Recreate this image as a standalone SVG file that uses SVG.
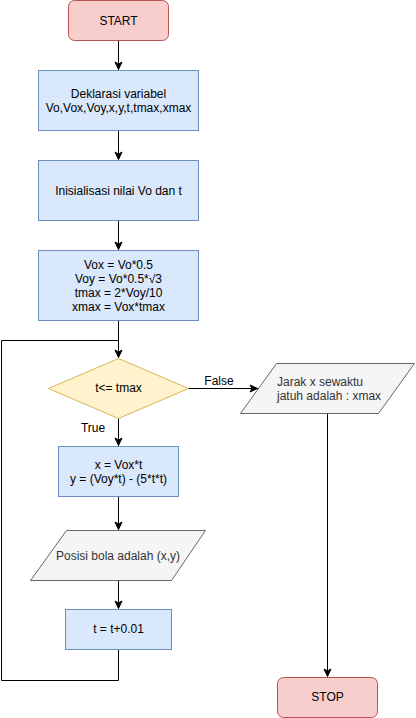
<svg xmlns="http://www.w3.org/2000/svg" width="416" height="718" viewBox="0 0 416 718">
<style>
text{font-family:"Liberation Sans",Arial,sans-serif;font-size:12px;text-anchor:middle;fill:#000}
.red{fill:#f8cecc;stroke:#b85450}
.blue{fill:#dae8fc;stroke:#6c8ebf}
.yel{fill:#fff2cc;stroke:#d6b656}
.gray{fill:#f5f5f5;stroke:#666666}
.gt{fill:#333333}
.edge{fill:none;stroke:#000;stroke-width:1}
</style>
<defs>
<marker id="arr" markerWidth="10" markerHeight="10" refX="9" refY="5" orient="auto" markerUnits="userSpaceOnUse">
<path d="M1.5,1.5 L9,5 L1.5,8.5 L3.5,5 Z" fill="#000" stroke="#000" stroke-width="1"/>
</marker>
</defs>
<g id="connectors">
<path class="edge" d="M118.5,40.5 V69.5" marker-end="url(#arr)"/>
<path class="edge" d="M118.5,130.5 V159.5" marker-end="url(#arr)"/>
<path class="edge" d="M118.5,220.5 V249.5" marker-end="url(#arr)"/>
<path class="edge" d="M118.5,320.5 V357.5" marker-end="url(#arr)"/>
<path class="edge" d="M118.5,418.5 V445.5" marker-end="url(#arr)"/>
<path class="edge" d="M118.5,496.5 V529.5" marker-end="url(#arr)"/>
<path class="edge" d="M118.5,580.5 V608.5" marker-end="url(#arr)"/>
<path class="edge" d="M118.5,649.5 V680.5 H1.5 V340.5 H118.5"/>
<path class="edge" d="M188.5,388.5 H257.5" marker-end="url(#arr)"/>
<path class="edge" d="M327.5,413.5 V676.5" marker-end="url(#arr)"/>
<text x="93" y="432">True</text>
<text x="219" y="385">False</text>
</g>
<g id="start">
<rect class="red" x="68.5" y="0.5" width="100" height="40" rx="6"/>
<text x="118.5" y="25">START</text>
</g>
<g id="deklarasi">
<rect class="blue" x="38.5" y="70.5" width="160" height="60"/>
<text x="118.5" y="98">Deklarasi variabel</text>
<text x="118.5" y="112">Vo,Vox,Voy,x,y,t,tmax,xmax</text>
</g>
<g id="inisialisasi">
<rect class="blue" x="38.5" y="160.5" width="160" height="60"/>
<text x="118.5" y="195">Inisialisasi nilai Vo dan t</text>
</g>
<g id="hitung">
<rect class="blue" x="38.5" y="250.5" width="160" height="70"/>
<text x="118.5" y="269">Vox = Vo*0.5</text>
<text x="118.5" y="283">Voy = Vo*0.5*√3</text>
<text x="118.5" y="297">tmax = 2*Voy/10</text>
<text x="118.5" y="311">xmax = Vox*tmax</text>
</g>
<g id="kondisi">
<polygon class="yel" points="118.5,358.5 188.5,388.5 118.5,418.5 48.5,388.5"/>
<text x="118.5" y="392">t&lt;= tmax</text>
</g>
<g id="posisi">
<rect class="blue" x="58.5" y="446.5" width="120" height="50"/>
<text x="118.5" y="469">x = Vox*t</text>
<text x="118.5" y="483">y = (Voy*t) - (5*t*t)</text>
</g>
<g id="output-posisi">
<polygon class="gray" points="66.5,530.5 205.5,530.5 171.5,580.5 30.5,580.5"/>
<text class="gt" x="118" y="560">Posisi bola adalah (x,y)</text>
</g>
<g id="increment">
<rect class="blue" x="65.5" y="609.5" width="106" height="40"/>
<text x="118.5" y="633">t = t+0.01</text>
</g>
<g id="output-jarak">
<polygon class="gray" points="276.5,363.5 414.5,363.5 378.5,413.5 240.5,413.5"/>
<text class="gt" x="277" y="386" style="text-anchor:start">Jarak x sewaktu</text>
<text class="gt" x="277" y="400" style="text-anchor:start">jatuh adalah : xmax</text>
</g>
<g id="stop">
<rect class="red" x="277.5" y="677.5" width="100" height="40" rx="6"/>
<text x="327.5" y="701">STOP</text>
</g>
</svg>
